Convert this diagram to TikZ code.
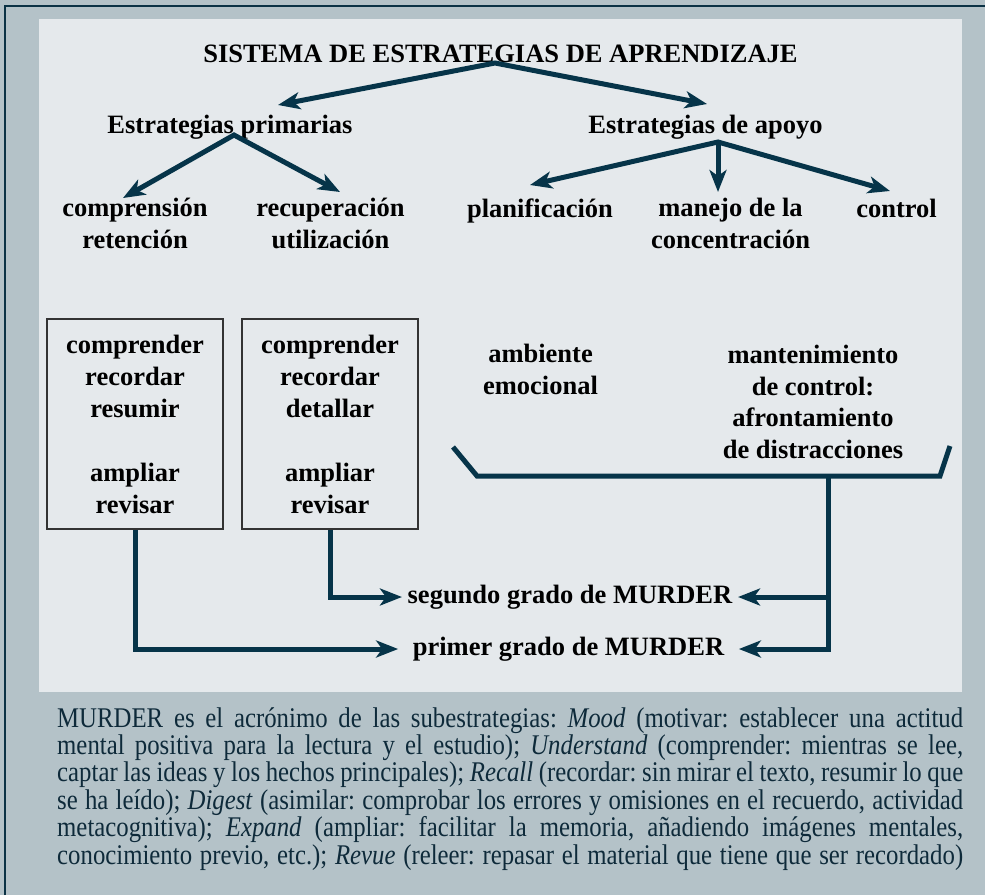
\documentclass[tikz,border=0pt]{standalone}
\usepackage{fontspec}
\setmainfont{Liberation Serif}
\newfontfamily\condfont[FakeStretch=0.87]{Liberation Serif}
\usetikzlibrary{arrows.meta,calc}
\definecolor{outerbg}{HTML}{B4C2C8}
\definecolor{panelbg}{HTML}{E5E9EC}
\definecolor{framecol}{HTML}{0B3245}
\definecolor{arrcol}{HTML}{063449}
\definecolor{notecol}{HTML}{0E2A3A}
\begin{document}
\begin{tikzpicture}[x=1pt,y=-1pt,
  lbl/.style={font=\fontsize{26.5}{31.5}\selectfont\bfseries, align=center, inner sep=0pt, anchor=base},
  conn/.style={draw=arrcol, line width=5pt},
  arr/.style={conn, -{Stealth[length=22pt,width=17pt,inset=6pt]}},
  twoarr/.style={conn, line join=miter, {Stealth[length=22pt,width=17pt,inset=6pt]}-{Stealth[length=22pt,width=17pt,inset=6pt]}},
  stagebox/.style={draw=black!80, line width=1.2pt, minimum width=176pt, minimum height=210pt, inner sep=0pt, align=center, font=\fontsize{26.5}{32}\selectfont\bfseries},
  murder/.style={font=\fontsize{26.5}{31.5}\selectfont\bfseries, inner ysep=0pt}
]
\useasboundingbox (0,0) rectangle (985,895);
% background and frame
\fill[outerbg] (0,0) rectangle (985,895);
\draw[framecol, line width=2pt] (5.2,895) -- (5.2,5.8) -- (985,5.8);
\fill[panelbg] (39,19) rectangle (962,692);

% texts (anchor base = baseline of the last line)
\node[lbl] (title) at (500.5,62) {SISTEMA DE ESTRATEGIAS DE APRENDIZAJE};
\node[lbl] (prim) at (230,133) {Estrategias primarias};
\node[lbl] (apoyo) at (705.5,133) {Estrategias de apoyo};
\node[lbl] (compr) at (135,248) {comprensión\\retención};
\node[lbl] (recup) at (330.5,248) {recuperación\\utilización};
\node[lbl] (plan) at (540,217) {planificación};
\node[lbl] (manejo) at (730.5,248) {manejo de la\\concentración};
\node[lbl] (control) at (896.5,217) {control};
\node[stagebox] (box1) at (135,424) {comprender\\recordar\\resumir\\[32pt]ampliar\\revisar};
\node[stagebox] (box2) at (330,424) {comprender\\recordar\\detallar\\[32pt]ampliar\\revisar};
\path (135,426) coordinate (b1c);
\node[lbl] (amb) at (540.5,394) {ambiente\\emocional};
\node[lbl] (mant) at (813,458) {mantenimiento\\de control:\\afrontamiento\\de distracciones};
\node[murder, inner xsep=5.5pt] (seg) at (570,597) {segundo grado de MURDER};
\node[murder, inner xsep=14.5pt] (prim2) at (568.5,649) {primer grado de MURDER};

% connectors from title
\coordinate (a0) at (495,63);
\coordinate (tL) at (278,105);
\coordinate (tR) at (707,104);
\draw[twoarr] (tL) -- (a0) -- (tR);
% primarias
\coordinate (a1) at (234,135);
\coordinate (pL) at (123,198);
\coordinate (pR) at (340,192);
\draw[twoarr] (pL) -- (a1) -- (pR);
% apoyo
\coordinate (a2) at (718,142);
\coordinate (sL) at (530,185);
\coordinate (sD) at (718,192);
\coordinate (sR) at (890,191);
\draw[twoarr] (sL) -- (a2) -- (sR);
\draw[arr] (a2) -- (sD);

% bracket
\coordinate (bk1) at (453,447);
\coordinate (bk2) at (477,476);
\coordinate (bk3) at (940,476);
\coordinate (bk4) at (950,446);
\draw[conn, line join=miter] (bk1) -- (bk2) -- (bk3) -- (bk4);
\coordinate (stem) at (828,476);
\draw[arr] (stem) |- (prim2.east);
\draw[arr] (stem |- seg.east) -- (seg.east);

% boxes to MURDER
\draw[arr] (box1.south) |- (prim2.west);
\draw[arr] (box2.south) |- (seg.west);

% note
\node[anchor=base west, inner sep=0pt, text=notecol] (note) at (57,727) {\parbox[t]{906pt}{\condfont\fontsize{28.5}{27.4}\selectfont\frenchspacing
\tolerance=9999\pretolerance=-1\hbadness=10000\emergencystretch=0pt\parindent=0pt
MURDER es el acrónimo de las subestrategias: \textit{Mood} (motivar: establecer una actitud\linebreak
mental positiva para la lectura y el estudio); \textit{Understand} (comprender: mientras se lee,\linebreak
captar las ideas y los hechos principales); \textit{Recall} (recordar: sin mirar el texto, resumir lo que\linebreak
se ha leído); \textit{Digest} (asimilar: comprobar los errores y omisiones en el recuerdo, actividad\linebreak
metacognitiva); \textit{Expand} (ampliar: facilitar la memoria, añadiendo imágenes mentales,\linebreak
conocimiento previo, etc.); \textit{Revue} (releer: repasar el material que tiene que ser recordado)\parfillskip=0pt\par}};
\end{tikzpicture}
\end{document}
